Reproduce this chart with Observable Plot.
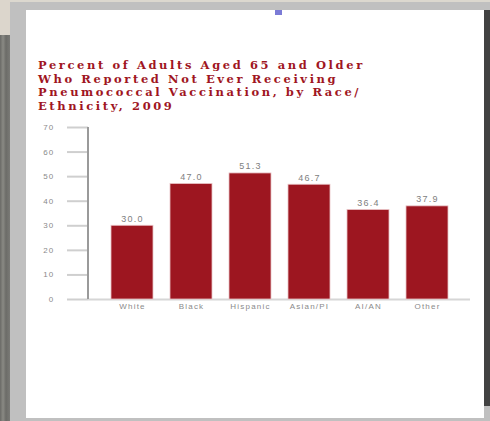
<!DOCTYPE html>
<html><head><meta charset="utf-8">
<script src="https://cdn.jsdelivr.net/npm/d3@7"></script>
<script src="https://cdn.jsdelivr.net/npm/@observablehq/plot@0.6"></script>
<style>
html,body{margin:0;padding:0;width:490px;height:421px;overflow:hidden;background:#c0c0c0;}
.abs{position:absolute;}
#topstrip{left:0;top:0;width:490px;height:2px;background:#dcd8cf;}
#leftTop{left:0;top:0;width:10px;height:35px;background:#dcd6cc;}
#leftBot{left:0;top:35px;width:10px;height:386px;background:linear-gradient(90deg,#6a6a66 0,#8a8a84 3px,#6c6c68 6px,#7a7a76 10px);}
#panel{left:26px;top:10px;width:458px;height:408px;background:#fff;}
#rightStrip{left:484px;top:10px;width:6px;height:396px;background:#424242;}
#blue{left:275px;top:10px;width:7px;height:5px;background:#7b7bd6;}
#title{left:38px;top:59px;font-family:"DejaVu Serif",serif;font-weight:bold;font-size:11.5px;line-height:13.5px;color:#a0161f;letter-spacing:2.6px;white-space:nowrap;}
#chart{left:0;top:0;}
#chart svg text{letter-spacing:1.2px;}
</style></head>
<body>
<div class="abs" id="topstrip"></div>
<div class="abs" id="leftTop"></div>
<div class="abs" id="leftBot"></div>
<div class="abs" id="panel"></div>
<div class="abs" id="rightStrip"></div>
<div class="abs" id="blue"></div>
<div class="abs" id="chart"></div>
<div class="abs" id="title">Percent of Adults Aged 65 and Older<br>Who Reported Not Ever Receiving<br>Pneumococcal Vaccination, by Race/<br>Ethnicity, 2009</div>
<script>
const categories = ["White", "Black", "Hispanic", "Asian/PI", "AI/AN", "Other"];
const values = [30.0, 47.0, 51.3, 46.7, 36.4, 37.9];
const yTicks = [0, 10, 20, 30, 40, 50, 60, 70];

const data = categories.map((c, i) => ({cat: c, val: values[i]}));

const axisLine = (index, scales, vals, dims) => {
  const g = d3.create("svg:line")
    .attr("x1", dims.marginLeft).attr("x2", dims.marginLeft)
    .attr("y1", scales.y(0)).attr("y2", scales.y(70))
    .attr("stroke", "#9a9a9a").attr("stroke-width", 2);
  return g.node();
};

const chart = Plot.plot({
  width: 490,
  height: 421,
  marginLeft: 88,
  marginRight: 20,
  marginTop: 127,
  marginBottom: 122,
  style: {background: "transparent", fontFamily: "'Liberation Sans', Arial, sans-serif"},
  x: {type: "band", domain: categories, paddingInner: 0.29, paddingOuter: 0.365},
  y: {domain: [0, 70]},
  marks: [
    Plot.ruleY([0], {stroke: "#d6d6d6", strokeWidth: 2}),
    Plot.axisY({ticks: yTicks, tickSize: 21, tickPadding: 13, stroke: "#cfcfcf", strokeWidth: 2, fill: "#8a8a8a", fontSize: 8, label: null, tickFormat: d => String(d)}),
    Plot.axisX({tickSize: 0, tickPadding: 4, fill: "#8a8a8a", fontSize: 8, label: null}),
    axisLine,
    Plot.barY(data, {x: "cat", y: "val", fill: "#9d1620", stroke: "#e9c2c5", strokeWidth: 0.8}),
    Plot.text(data, {x: "cat", y: "val", text: d => d.val.toFixed(1), dy: -7, fontSize: 9, fill: "#808080"})
  ]
});
document.getElementById("chart").appendChild(chart);
</script>
</body></html>
